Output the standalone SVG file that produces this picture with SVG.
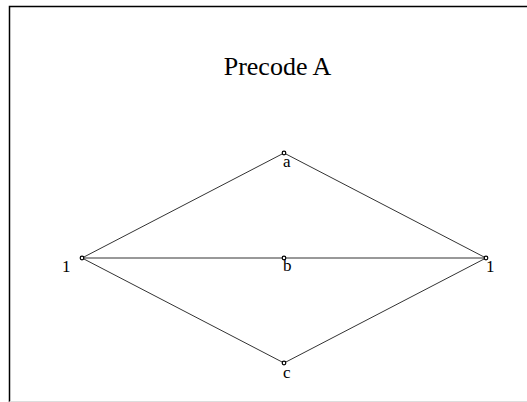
<svg xmlns="http://www.w3.org/2000/svg" width="527" height="402" viewBox="0 0 527 402">
<style>
.edge{stroke:#333;stroke-width:1;fill:none}
.node circle{fill:#fff;stroke:#000;stroke-width:1.2}
.lbl{font-family:"Liberation Serif",serif;font-size:17px;fill:#000}
.title{font-family:"Liberation Serif",serif;font-size:26px;fill:#000;text-anchor:middle}
</style>
<rect width="527" height="402" fill="#fff"/>
<path d="M9.5,402 V6.5 H527" stroke="#000" stroke-width="1.5" fill="none"/>
<line x1="9.5" y1="401.5" x2="527" y2="401.5" stroke="#ddd" stroke-width="1"/>
<text class="title" x="277.5" y="75">Precode A</text>
<g id="connectors">
<line class="edge" x1="82" y1="258" x2="284" y2="153"/>
<line class="edge" x1="82" y1="258" x2="486" y2="258"/>
<line class="edge" x1="82" y1="258" x2="284" y2="363"/>
<line class="edge" x1="284" y1="153" x2="486" y2="258"/>
<line class="edge" x1="284" y1="363" x2="486" y2="258"/>
</g>
<g id="n1" class="node"><circle cx="82" cy="258" r="1.8"/><text class="lbl" x="62" y="272">1</text></g>
<g id="a" class="node"><circle cx="284" cy="153" r="1.8"/><text class="lbl" x="283" y="167">a</text></g>
<g id="b" class="node"><circle cx="284" cy="258" r="1.8"/><text class="lbl" x="283" y="271">b</text></g>
<g id="c" class="node"><circle cx="284" cy="363" r="1.8"/><text class="lbl" x="283" y="378">c</text></g>
<g id="n2" class="node"><circle cx="486" cy="258" r="1.8"/><text class="lbl" x="486" y="272">1</text></g>
</svg>
